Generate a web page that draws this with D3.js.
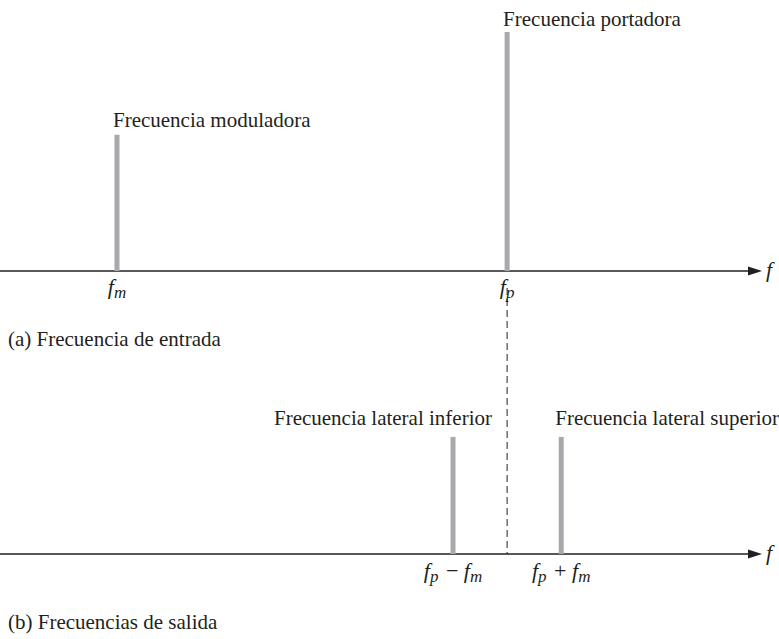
<!DOCTYPE html>
<html>
<head>
<meta charset="utf-8">
<script src="https://cdn.jsdelivr.net/npm/d3@7"></script>
<style>
  body { margin: 0; background: #fff; }
  svg { display: block; }
</style>
</head>
<body>
<svg id="chart" width="779" height="639"></svg>
<script>
// Input spectrum (arbitrary frequency units, relative amplitude)
const inputNames = ['Frecuencia moduladora', 'Frecuencia portadora'];
const inputFreqs = [15.35, 66.55];
const inputAmps = [0.57, 1.0];
const inputTicks = [['f', 'm'], ['f', 'p']];

// Output spectrum
const outputNames = ['Frecuencia lateral inferior', 'Frecuencia lateral superior'];
const outputFreqs = [59.45, 73.65];
const outputAmps = [0.49, 0.49];
const outputTicks = [['f', 'p', ' − ', 'f', 'm'], ['f', 'p', ' + ', 'f', 'm']];

const carrier = 66.55;

const svg = d3.select('#chart')
  .attr('font-family', 'Liberation Serif')
  .attr('fill', '#231f20');

const x = d3.scaleLinear().domain([0, 100]).range([0, 762]);
const y = d3.scaleLinear().domain([0, 1]).range([0, 239]);

const baseA = 271;
const baseB = 554;
const barColor = '#a9a9ad';

function drawAxis(base) {
  svg.append('line')
    .attr('x1', 0).attr('x2', x(100) - 12)
    .attr('y1', base).attr('y2', base)
    .attr('stroke', '#231f20').attr('stroke-width', 1.3);
  const tip = x(100);
  svg.append('path')
    .attr('d', `M${tip},${base} L${tip - 14},${base - 4.5} L${tip - 14},${base + 4.5} Z`)
    .attr('fill', '#231f20');
  svg.append('text')
    .attr('x', tip + 4).attr('y', base + 6)
    .attr('font-size', 22).attr('font-style', 'italic')
    .text('f');
}

function tickLabel(parts, cx, baseline) {
  const t = svg.append('text')
    .attr('x', cx).attr('y', baseline)
    .attr('font-size', 22)
    .attr('text-anchor', 'middle')
    .style('white-space', 'pre');
  parts.forEach((p) => {
    const span = t.append('tspan').text(p);
    if (p === 'f') span.attr('font-style', 'italic');
    else if (p === 'm' || p === 'p') {
      span.attr('font-style', 'italic').attr('font-size', 17).attr('dy', 4);
    } else {
      span.attr('dy', -4).attr('dx', 2);
    }
  });
  return t;
}

function drawBars(freqs, amps, names, ticks, base, labelAnchor, labelDx, labelGap, tickDy) {
  freqs.forEach((f, i) => {
    const cx = x(f);
    const top = base - y(amps[i]);
    svg.append('rect')
      .attr('x', cx - 2.5).attr('y', top)
      .attr('width', 5).attr('height', base - top)
      .attr('fill', barColor);
    svg.append('text')
      .attr('x', cx + labelDx[i]).attr('y', top - labelGap[i])
      .attr('font-size', 21)
      .attr('text-anchor', labelAnchor[i])
      .text(names[i]);
    tickLabel(ticks[i], cx, base + tickDy);
  });
}

// (a) input
drawAxis(baseA);
drawBars(inputFreqs, inputAmps, inputNames, inputTicks, baseA,
  ['start', 'start'], [-4, -4], [8, 6], 23);

// dashed guide at carrier
svg.append('line')
  .attr('x1', x(carrier)).attr('x2', x(carrier))
  .attr('y1', 288).attr('y2', baseB)
  .attr('stroke', '#231f20').attr('stroke-width', 1)
  .attr('stroke-dasharray', '7,4');

// (b) output
drawAxis(baseB);
drawBars(outputFreqs, outputAmps, outputNames, outputTicks, baseB,
  ['end', 'start'], [39, -6], [12, 12], 24);

svg.append('text')
  .attr('x', 8).attr('y', 346)
  .attr('font-size', 21)
  .text('(a) Frecuencia de entrada');

svg.append('text')
  .attr('x', 8).attr('y', 629)
  .attr('font-size', 21)
  .text('(b) Frecuencias de salida');
</script>
</body>
</html>
